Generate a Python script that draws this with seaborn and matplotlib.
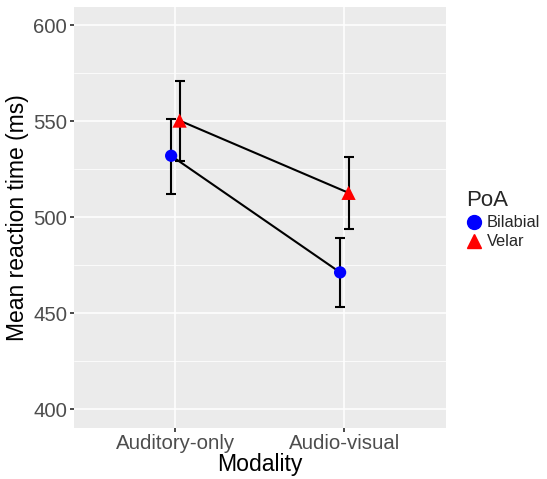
import numpy as np
import pandas as pd
import matplotlib
matplotlib.use("Agg")
import matplotlib.pyplot as plt
import seaborn as sns
from matplotlib.lines import Line2D

modality = ["Auditory-only", "Audio-visual"]
poa = ["Bilabial", "Velar"]
bilabial_mean = [532, 471.3]
bilabial_lo = [512.3, 453.3]
bilabial_hi = [551.3, 489.3]
velar_mean = [550.3, 512.7]
velar_lo = [529.5, 493.8]
velar_hi = [571.0, 531.6]

rows = []
for i, m in enumerate(modality):
    rows.append(dict(Modality=m, PoA="Bilabial", mean=bilabial_mean[i], lo=bilabial_lo[i], hi=bilabial_hi[i]))
    rows.append(dict(Modality=m, PoA="Velar", mean=velar_mean[i], lo=velar_lo[i], hi=velar_hi[i]))
df = pd.DataFrame(rows)
dodge = {"Bilabial": -0.025, "Velar": 0.025}
df["x"] = df["Modality"].map({m: i for i, m in enumerate(modality)}) + df["PoA"].map(dodge)

sns.set_theme(style="darkgrid", rc={
    "axes.facecolor": "#EBEBEB", "grid.color": "white", "figure.facecolor": "white",
})
plt.rcParams["font.family"] = ["Liberation Sans", "DejaVu Sans"]

fig = plt.figure(figsize=(5.47, 4.79), dpi=100)
ax = fig.add_axes([74/547, 1 - 427.5/479, (445.7 - 74)/547, (427.5 - 7)/479])

for p in poa:
    d = df[df.PoA == p]
    ax.plot(d["x"], d["mean"], color="black", lw=1.5, zorder=2)
    ax.errorbar(d["x"], d["mean"], yerr=[d["mean"] - d["lo"], d["hi"] - d["mean"]],
                fmt="none", ecolor="black", elinewidth=1.5, capsize=3.3, capthick=1.5, zorder=2)

sns.scatterplot(data=df, x="x", y="mean", hue="PoA", style="PoA", size="PoA",
                palette={"Bilabial": "#0000FF", "Velar": "#FF0000"},
                markers={"Bilabial": "o", "Velar": "^"},
                sizes={"Bilabial": 78, "Velar": 105}, linewidth=0,
                ax=ax, zorder=3, legend=False)

ax.set_xlim(-0.6, 1.6)
ax.set_ylim(390.6, 609.4)
ax.set_xticks([0, 1])
ax.set_xticklabels(modality)
ax.set_yticks([400, 450, 500, 550, 600])
ax.set_yticks([425, 475, 525, 575], minor=True)
ax.grid(which="major", color="white", lw=1.1)
ax.grid(which="minor", color="white", lw=0.55)
for s in ax.spines.values():
    s.set_visible(False)
ax.tick_params(axis="both", which="major", length=3, color="#333333", labelsize=14.7,
               labelcolor="#4D4D4D", pad=2, left=True, bottom=True)
ax.tick_params(axis="both", which="minor", length=0)
ax.set_xlabel("Modality", fontsize=16.6, color="black", labelpad=0)
ax.set_ylabel("Mean reaction time (ms)", fontsize=16.5, color="black", labelpad=3)

handles = [
    Line2D([], [], marker="o", color="#0000FF", ls="none", markersize=10),
    Line2D([], [], marker="^", color="#FF0000", ls="none", markersize=10.5),
]
leg = fig.legend(handles, poa, title="PoA", loc="upper left",
                 bbox_to_anchor=(458/547, 1 - 182/479), frameon=False,
                 fontsize=11.8, title_fontsize=16, handlelength=1.0,
                 handletextpad=0.25, labelspacing=0.25, borderpad=0)
leg._legend_box.align = "left"

fig.savefig("out.png", dpi=100)
